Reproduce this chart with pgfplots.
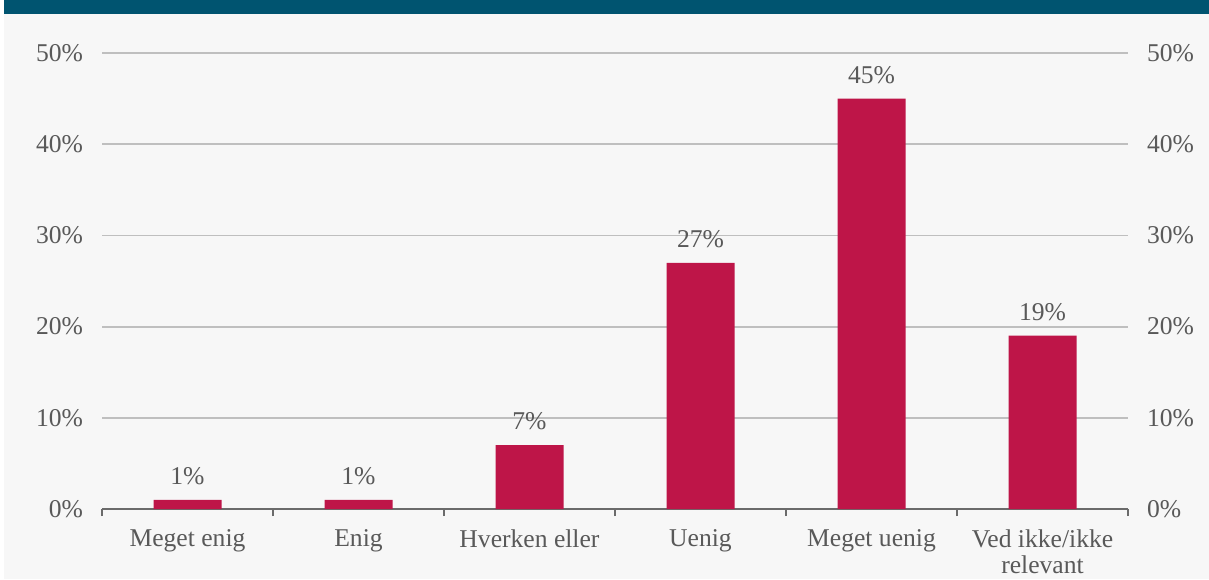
\documentclass[border=0pt]{standalone}
\usepackage{fontspec}
\setmainfont{Liberation Serif}
\usepackage{pgfplots}
\pgfplotsset{compat=1.18}
\definecolor{barred}{HTML}{BE1548}
\definecolor{txt}{HTML}{595959}
\definecolor{gridc}{HTML}{BFBFBF}
\definecolor{axcol}{HTML}{6B6B6B}
\definecolor{banner}{HTML}{005470}
\definecolor{bg}{HTML}{F7F7F7}

\begin{document}
\begin{tikzpicture}
\path[use as bounding box] (0,0) rectangle (604.5pt,289.5pt);
\fill[bg] (2pt,0) rectangle (604.5pt,282.5pt);
\fill[banner] (2pt,282.5pt) rectangle (604.5pt,289.5pt);

\begin{axis}[
  at={(51pt,35pt)}, anchor=south west,
  scale only axis, width=513pt, height=228pt,
  xmin=-0.5, xmax=5.5, ymin=0, ymax=50,
  axis x line*=bottom, axis y line*=left,
  y axis line style={draw=none},
  x axis line style={draw=axcol, line width=1pt},
  xtick={0,...,5},
  xticklabels={Meget enig, Enig, Hverken eller, Uenig, Meget uenig, {Ved ikke/ikke\\relevant}},
  xticklabel style={align=center, yshift=-2.5pt},
  major x tick style={draw=none},
  minor xtick={-0.5,0.5,...,5.5},
  minor x tick style={draw=axcol, line width=1pt},
  minor tick length=3.5pt,
  xtick align=outside,
  ytick={0,10,...,50},
  major y tick style={draw=none},
  yticklabel={\pgfmathprintnumber{\tick}\%},
  yticklabel style={xshift=-6pt},
  /pgf/number format/assume math mode=true,
  ymajorgrids, grid style={gridc, line width=0.9pt},
  tick label style={font=\fontsize{12.8}{13}\selectfont, text=txt},
  ybar, bar width=34pt,
  nodes near coords={\pgfmathprintnumber{\pgfplotspointmeta}\%},
  nodes near coords style={font=\fontsize{12.8}{13}\selectfont, text=txt, yshift=4pt},
]
\addplot[fill=barred, draw=none] coordinates {
  (0,1) (1,1) (2,7) (3,27) (4,45) (5,19)
};
\end{axis}

\begin{axis}[
  at={(51pt,35pt)}, anchor=south west,
  scale only axis, width=513pt, height=228pt,
  xmin=-0.5, xmax=5.5, ymin=0, ymax=50,
  axis x line=none, axis y line*=right,
  y axis line style={draw=none},
  ytick={0,10,...,50},
  major y tick style={draw=none},
  yticklabel={\pgfmathprintnumber{\tick}\%},
  yticklabel style={xshift=6pt},
  /pgf/number format/assume math mode=true,
  tick label style={font=\fontsize{12.8}{13}\selectfont, text=txt},
]
\end{axis}
\end{tikzpicture}
\end{document}
